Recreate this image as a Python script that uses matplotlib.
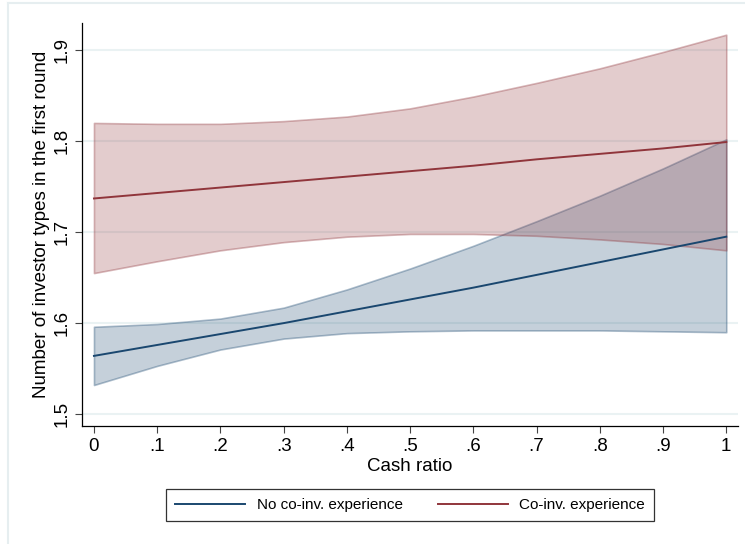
import matplotlib.pyplot as plt
from matplotlib.lines import Line2D

plt.rcParams['font.family'] = ['Liberation Sans', 'DejaVu Sans']

# Cash ratio grid (margins evaluated at these points)
cash_ratio = [0, .1, .2, .3, .4, .5, .6, .7, .8, .9, 1]
x_ticklabels = ['0', '.1', '.2', '.3', '.4', '.5', '.6', '.7', '.8', '.9', '1']
y_ticks = [1.5, 1.6, 1.7, 1.8, 1.9]

# No co-investment experience
no_exp = [1.564, 1.576, 1.588, 1.600, 1.613, 1.626, 1.639, 1.653, 1.667, 1.681, 1.695]
no_exp_hi = [1.596, 1.599, 1.605, 1.617, 1.637, 1.660, 1.685, 1.712, 1.740, 1.770, 1.802]
no_exp_lo = [1.532, 1.553, 1.571, 1.583, 1.589, 1.591, 1.592, 1.592, 1.592, 1.591, 1.590]

# Co-investment experience
exp = [1.737, 1.743, 1.749, 1.755, 1.761, 1.767, 1.773, 1.780, 1.786, 1.792, 1.799]
exp_hi = [1.820, 1.819, 1.819, 1.822, 1.827, 1.836, 1.849, 1.864, 1.880, 1.898, 1.917]
exp_lo = [1.655, 1.668, 1.680, 1.689, 1.695, 1.698, 1.698, 1.696, 1.692, 1.687, 1.680]

navy = (26/255, 71/255, 111/255)
maroon = (144/255, 53/255, 59/255)

fig = plt.figure(figsize=(7.45, 5.44), dpi=100)
ax = fig.add_axes([0.110, 0.217, 0.881, 0.741])

# Confidence bands
ax.fill_between(cash_ratio, no_exp_lo, no_exp_hi, facecolor=navy + (0.25,),
                edgecolor=navy + (0.35,), linewidth=1.2, zorder=2)
ax.fill_between(cash_ratio, exp_lo, exp_hi, facecolor=maroon + (0.25,),
                edgecolor=maroon + (0.35,), linewidth=1.2, zorder=2)

# Predicted values
ax.plot(cash_ratio, no_exp, color=navy, linewidth=1.4, zorder=3)
ax.plot(cash_ratio, exp, color=maroon, linewidth=1.4, zorder=3)

ax.set_xlim(-0.019, 1.019)
ax.set_ylim(1.487, 1.930)
ax.set_xticks(cash_ratio)
ax.set_xticklabels(x_ticklabels)
ax.set_yticks(y_ticks)
ax.set_yticklabels([str(v) for v in y_ticks], rotation=90, va='center')
ax.grid(axis='y', color='#eaf2f3', linewidth=1.5, zorder=0)
ax.set_axisbelow(True)

for s in ['top', 'right']:
    ax.spines[s].set_visible(False)
for s in ['left', 'bottom']:
    ax.spines[s].set_linewidth(0.9)
    ax.spines[s].set_color('black')
ax.tick_params(axis='both', direction='out', length=5, width=0.8,
               color='#444444', labelsize=13.5, pad=3.5)

ax.set_xlabel('Cash ratio', fontsize=13.5, labelpad=2)
ax.set_ylabel('Number of investor types in the first round', fontsize=13.5,
              labelpad=2.5)

handles = [Line2D([], [], color=navy, linewidth=1.4),
           Line2D([], [], color=maroon, linewidth=1.4)]
leg = fig.legend(handles, ['No co-inv. experience', 'Co-inv. experience'],
                 loc='center', bbox_to_anchor=(0.5503, 0.0717), ncol=2,
                 fontsize=11, frameon=True, fancybox=False,
                 handlelength=4.6, handletextpad=0.75, columnspacing=2.3,
                 borderpad=0.6)
leg.get_frame().set_edgecolor('black')
leg.get_frame().set_linewidth(0.9)

# outer light frame
fig.add_artist(Line2D([8/745, 8/745], [0, 1 - 3/544], color='#e6eef0',
                      linewidth=1.5, transform=fig.transFigure))
fig.add_artist(Line2D([8/745, 1], [1 - 3/544, 1 - 3/544], color='#e6eef0',
                      linewidth=1.5, transform=fig.transFigure))

fig.savefig('out.png', dpi=100)
